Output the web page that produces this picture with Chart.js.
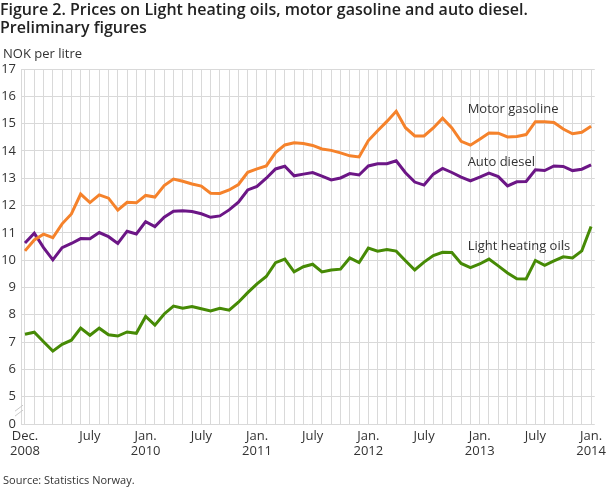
<!DOCTYPE html>
<html>
<head>
<meta charset="utf-8">
<script src="https://cdn.jsdelivr.net/npm/chart.js@4/dist/chart.umd.min.js"></script>
<style>
	body { margin: 0; background: #fff; font-family: 'Open Sans', sans-serif; color: #222; }
	#page { position: relative; width: 610px; height: 488px; overflow: hidden; }
	#title { position: absolute; left: 0; top: 1px; font-size: 16px; font-weight: 600; line-height: 17.5px; z-index: 2; }
	#unit { position: absolute; left: 3px; top: 44px; font-size: 13px; color: #333; z-index: 2; }
	#source { position: absolute; left: 3px; top: 472px; font-size: 11px; color: #333; z-index: 2; }
	#wrap { position: absolute; left: 0; top: 0; width: 610px; height: 488px; }
</style>
</head>
<body>
<div id="page">
	<div id="title">Figure 2. Prices on Light heating oils, motor gasoline and auto diesel.<br>Preliminary figures</div>
	<div id="unit">NOK per litre</div>
	<div id="wrap"><canvas id="figure_prices"></canvas></div>
	<div id="source">Source: Statistics Norway.</div>
</div>
<script>
// monthly, Dec. 2008 - Jan. 2014 (62 months)
const gasoline = [10.34, 10.74, 10.95, 10.82, 11.33, 11.69, 12.42, 12.11, 12.39, 12.27, 11.83, 12.12, 12.10,
	12.37, 12.31, 12.73, 12.97, 12.89, 12.79, 12.71, 12.45, 12.44, 12.57, 12.77, 13.22, 13.34, 13.45,
	13.94, 14.22, 14.30, 14.27, 14.20, 14.07, 14.02, 13.93, 13.82, 13.78, 14.38, 14.74, 15.08, 15.45,
	14.85, 14.55, 14.55, 14.84, 15.20, 14.84, 14.35, 14.21, 14.43, 14.66, 14.65, 14.51, 14.53, 14.60,
	15.07, 15.07, 15.04, 14.80, 14.63, 14.68, 14.90];
const diesel = [10.63, 10.99, 10.46, 10.01, 10.46, 10.61, 10.79, 10.78, 11.01, 10.86, 10.61, 11.06, 10.96,
	11.41, 11.23, 11.57, 11.79, 11.81, 11.78, 11.70, 11.57, 11.62, 11.84, 12.12, 12.57, 12.70, 13.00,
	13.34, 13.44, 13.09, 13.15, 13.21, 13.08, 12.94, 13.01, 13.17, 13.12, 13.45, 13.53, 13.53, 13.64,
	13.20, 12.86, 12.75, 13.15, 13.36, 13.21, 13.04, 12.90, 13.04, 13.19, 13.06, 12.72, 12.87, 12.88,
	13.31, 13.28, 13.45, 13.43, 13.28, 13.33, 13.49];
const heating = [7.29, 7.36, 7.01, 6.67, 6.92, 7.07, 7.51, 7.25, 7.51, 7.27, 7.22, 7.37, 7.32,
	7.94, 7.62, 8.03, 8.32, 8.24, 8.30, 8.22, 8.14, 8.24, 8.17, 8.46, 8.81, 9.13, 9.40,
	9.91, 10.04, 9.57, 9.76, 9.85, 9.57, 9.64, 9.67, 10.08, 9.91, 10.44, 10.33, 10.39, 10.33,
	9.98, 9.64, 9.93, 10.17, 10.29, 10.28, 9.88, 9.73, 9.86, 10.04, 9.79, 9.53, 9.32, 9.31,
	9.99, 9.81, 9.97, 10.12, 10.08, 10.34, 11.23];

const seriesNames = ['Motor gasoline', 'Auto diesel', 'Light heating oils'];
const seriesColours = ['#f5822b', '#6c1686', '#468a05'];

const tickMonths = [0, 7, 13, 19, 25, 31, 37, 43, 49, 55, 61];
const tickLabels = [['Dec.', '2008'], 'July', ['Jan.', '2010'], 'July', ['Jan.', '2011'], 'July',
	['Jan.', '2012'], 'July', ['Jan.', '2013'], 'July', ['Jan.', '2014']];

// name label anchors: [month index, value]
const nameAnchors = [[47.7, 15.52], [47.7, 13.59], [47.7, 10.52]];

const gridColour = '#d9d9d9';

const annotate = {
	id: 'annotate',
	afterDraw(chart) {
		const { ctx, scales: { x, y } } = chart;
		ctx.save();
		ctx.font = '13px "Open Sans"';
		ctx.fillStyle = '#333';
		ctx.textBaseline = 'middle';
		seriesNames.forEach((name, i) => {
			ctx.fillText(name, x.getPixelForValue(nameAnchors[i][0]), y.getPixelForValue(nameAnchors[i][1]));
		});
		// axis break
		const x0 = x.left;
		ctx.strokeStyle = '#c8c8c8';
		ctx.lineWidth = 1;
		[4.4, 4.58].forEach(v => {
			const yy = y.getPixelForValue(v);
			ctx.beginPath();
			ctx.moveTo(x0 - 6, yy + 3);
			ctx.lineTo(x0 + 2, yy - 3);
			ctx.stroke();
		});
		ctx.restore();
	}
};

document.addEventListener('DOMContentLoaded', () => {
	Chart.defaults.font.family = '"Open Sans", sans-serif';
	Chart.defaults.font.size = 13;
	Chart.defaults.color = '#333';

	const series = [gasoline, diesel, heating];
	new Chart(document.getElementById('figure_prices'), {
		type: 'line',
		data: {
			datasets: series.map((values, i) => ({
				label: seriesNames[i],
				data: values.map((v, m) => ({ x: m, y: v })),
				borderColor: seriesColours[i],
				borderWidth: 3,
				pointRadius: 0,
				tension: 0,
				fill: false
			}))
		},
		options: {
			responsive: true,
			maintainAspectRatio: false,
			animation: false,
			layout: { padding: { top: 69, right: 10, bottom: 28, left: 0 } },
			plugins: { legend: { display: false }, tooltip: { enabled: false } },
			scales: {
				x: {
					type: 'linear',
					min: -0.43,
					max: 61.4,
					afterBuildTicks: scale => {
						scale.ticks = gasoline.map((v, m) => ({ value: m }));
					},
					afterFit: scale => { scale.height = 36; },
					grid: { color: gridColour, drawTicks: false },
					border: { display: false },
					ticks: {
						autoSkip: false,
						maxRotation: 0,
						padding: 4,
						callback: value => {
							const k = tickMonths.indexOf(value);
							return k < 0 ? '' : tickLabels[k];
						}
					}
				},
				y: {
					min: 4,
					max: 17,
					afterFit: scale => { scale.width = 21; },
					grid: { color: gridColour, drawTicks: false },
					border: { display: true, color: gridColour },
					ticks: {
						stepSize: 1,
						padding: 5,
						callback: value => value === 4 ? '0' : value
					}
				}
			}
		},
		plugins: [annotate]
	});
});
</script>
</body>
</html>
